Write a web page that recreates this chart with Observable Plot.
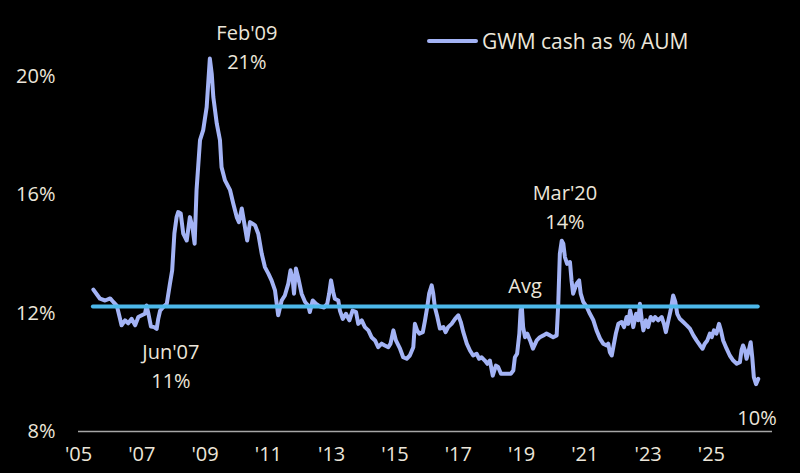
<!DOCTYPE html>
<html>
<head>
<meta charset="utf-8">
<script src="https://cdn.jsdelivr.net/npm/d3@7"></script>
<script src="https://cdn.jsdelivr.net/npm/@observablehq/plot@0.6"></script>
<style>
  html, body { margin: 0; padding: 0; background: #000; }
  #wrap { position: relative; width: 800px; height: 473px; background: #000; }
  #legend {
    position: absolute; left: 427px; top: 27px;
    display: flex; align-items: center; gap: 4px;
    font-family: "Open Sans", sans-serif; font-size: 21px; color: #ECE6DA;
  }
  #legend .swatch { width: 51px; height: 4px; border-radius: 2px; background: #A3B3F5; }
</style>
</head>
<body>
<div id="wrap">
  <div id="legend"><span class="swatch"></span><span>GWM cash as % AUM</span></div>
</div>
<script>
// GWM cash as a share of client assets, sampled roughly monthly (decimal year, %)
const years = [
  2005.47, 2005.68, 2005.84, 2006.00, 2006.10, 2006.21, 2006.31, 2006.36, 2006.47, 2006.57,
  2006.68, 2006.79, 2006.89, 2007.00, 2007.10, 2007.15, 2007.21, 2007.29, 2007.39, 2007.47,
  2007.52, 2007.58, 2007.68, 2007.79, 2007.89, 2007.96, 2008.03, 2008.10, 2008.15, 2008.23,
  2008.31, 2008.42, 2008.52, 2008.60, 2008.67, 2008.73, 2008.84, 2008.94, 2009.05, 2009.15,
  2009.21, 2009.26, 2009.37, 2009.47, 2009.52, 2009.63, 2009.79, 2009.89, 2010.00, 2010.07,
  2010.16, 2010.26, 2010.33, 2010.42, 2010.58, 2010.68, 2010.79, 2010.89, 2011.00, 2011.10,
  2011.21, 2011.31, 2011.42, 2011.52, 2011.63, 2011.70, 2011.77, 2011.81, 2011.87, 2011.94,
  2012.05, 2012.16, 2012.26, 2012.31, 2012.40, 2012.50, 2012.63, 2012.76, 2012.86, 2012.92,
  2012.98, 2013.05, 2013.10, 2013.21, 2013.26, 2013.35, 2013.45, 2013.56, 2013.66, 2013.77,
  2013.84, 2013.95, 2014.05, 2014.16, 2014.26, 2014.37, 2014.47, 2014.58, 2014.68, 2014.79,
  2014.86, 2014.95, 2015.03, 2015.16, 2015.26, 2015.37, 2015.47, 2015.58, 2015.63, 2015.70,
  2015.77, 2015.88, 2015.95, 2016.02, 2016.08, 2016.16, 2016.21, 2016.26, 2016.34, 2016.42,
  2016.53, 2016.60, 2016.68, 2016.79, 2016.90, 2017.00, 2017.08, 2017.16, 2017.27, 2017.37,
  2017.47, 2017.58, 2017.66, 2017.74, 2017.84, 2017.92, 2018.00, 2018.09, 2018.19, 2018.26,
  2018.35, 2018.44, 2018.55, 2018.66, 2018.74, 2018.79, 2018.86, 2018.93, 2018.97, 2019.01,
  2019.05, 2019.11, 2019.18, 2019.27, 2019.36, 2019.48, 2019.58, 2019.69, 2019.79, 2019.90,
  2020.00, 2020.11, 2020.16, 2020.21, 2020.27, 2020.32, 2020.37, 2020.44, 2020.53, 2020.58,
  2020.63, 2020.74, 2020.82, 2020.87, 2020.95, 2021.06, 2021.16, 2021.27, 2021.37, 2021.48,
  2021.58, 2021.69, 2021.74, 2021.79, 2021.85, 2021.90, 2021.98, 2022.06, 2022.16, 2022.24,
  2022.32, 2022.37, 2022.43, 2022.48, 2022.53, 2022.62, 2022.69, 2022.74, 2022.80, 2022.85,
  2022.93, 2023.00, 2023.08, 2023.16, 2023.22, 2023.32, 2023.43, 2023.50, 2023.56, 2023.64,
  2023.71, 2023.79, 2023.86, 2023.92, 2024.00, 2024.11, 2024.22, 2024.32, 2024.43, 2024.53,
  2024.64, 2024.72, 2024.79, 2024.87, 2024.95, 2025.01, 2025.08, 2025.16, 2025.24, 2025.30,
  2025.37, 2025.48, 2025.58, 2025.69, 2025.80, 2025.90, 2025.95, 2026.00, 2026.06, 2026.11,
  2026.18, 2026.24, 2026.29, 2026.34, 2026.41, 2026.48
];
const cashPct = [
  12.80, 12.49, 12.43, 12.50, 12.38, 12.26, 11.82, 11.59, 11.76, 11.66,
  11.81, 11.59, 11.87, 11.93, 11.98, 12.26, 11.98, 11.55, 11.53, 11.47,
  11.81, 12.09, 12.21, 12.32, 13.00, 13.45, 14.70, 15.25, 15.42, 15.37,
  14.69, 14.46, 15.25, 14.91, 14.35, 16.16, 17.85, 18.19, 18.97, 20.61,
  20.10, 19.31, 18.41, 17.85, 16.94, 16.49, 16.16, 15.71, 15.25, 15.08,
  15.54, 14.91, 14.46, 15.08, 14.97, 14.69, 14.01, 13.56, 13.34, 13.11,
  12.77, 11.93, 12.43, 12.60, 13.00, 13.45, 13.11, 12.66, 13.51, 13.22,
  12.66, 12.38, 12.26, 12.04, 12.43, 12.32, 12.23, 12.19, 12.32, 12.66,
  13.11, 12.71, 12.49, 12.43, 12.09, 11.81, 11.98, 11.76, 12.09, 12.04,
  11.64, 11.76, 11.53, 11.42, 11.19, 11.08, 10.85, 10.97, 10.91, 10.85,
  10.97, 11.42, 11.08, 10.80, 10.51, 10.46, 10.57, 10.85, 11.64, 11.42,
  11.31, 11.36, 11.76, 12.21, 12.66, 12.94, 12.66, 12.21, 11.87, 11.48,
  11.53, 11.36, 11.53, 11.64, 11.81, 11.93, 11.70, 11.36, 10.97, 10.74,
  10.57, 10.63, 10.46, 10.51, 10.40, 10.29, 10.40, 9.89, 10.23, 10.18,
  9.95, 9.95, 9.95, 9.95, 10.06, 10.51, 10.63, 11.31, 12.09, 12.21,
  11.53, 11.19, 11.31, 11.08, 10.80, 11.08, 11.19, 11.25, 11.31, 11.25,
  11.19, 11.25, 12.32, 14.01, 14.45, 14.35, 13.90, 13.67, 13.73, 13.11,
  12.66, 13.00, 13.11, 12.66, 12.38, 12.21, 11.98, 11.76, 11.42, 11.14,
  10.97, 10.91, 10.97, 10.68, 10.57, 10.85, 11.31, 11.64, 11.70, 11.53,
  11.87, 11.64, 12.09, 11.87, 11.53, 11.98, 11.76, 12.32, 11.76, 11.42,
  11.76, 11.53, 11.87, 11.76, 11.87, 11.76, 11.87, 11.64, 11.36, 11.76,
  12.09, 12.60, 12.38, 11.98, 11.81, 11.70, 11.59, 11.48, 11.25, 11.08,
  10.91, 10.80, 10.97, 11.08, 11.31, 11.19, 11.42, 11.31, 11.64, 11.42,
  11.08, 10.80, 10.57, 10.40, 10.29, 10.34, 10.74, 10.91, 10.74, 10.46,
  10.74, 11.02, 10.51, 9.84, 9.60, 9.78
];

// Long-run average level
const avgPct = 12.23;

// Axis ticks
const xTickYears = [2005, 2007, 2009, 2011, 2013, 2015, 2017, 2019, 2021, 2023, 2025];
const yTickPct = [8, 12, 16, 20];

// Callout names and where their text sits (decimal year, %)
const calloutNames = ["Feb'09", "Mar'20", "Jun'07"];
const calloutWindows = [[2008.5, 2009.6, "max"], [2019.9, 2020.6, "max"], [2007.0, 2007.9, "min"]];
const calloutX = [2010.32, 2020.37, 2007.92];
const calloutY = [21.06, 15.65, 10.27];
const avgLabelPos = [2019.11, 13.01];
const lastLabelPos = [2026.44, 8.54];

const series = years.map((t, i) => ({ t, v: cashPct[i] }));
const fmt = d3.format(".0f");

// Callout text takes its number from the series itself
const callouts = calloutNames.map((name, i) => {
  const [a, b, kind] = calloutWindows[i];
  const vals = series.filter(d => d.t >= a && d.t <= b).map(d => d.v);
  const v = kind === "max" ? d3.max(vals) : d3.min(vals);
  return { x: calloutX[i], y: calloutY[i], text: `${name}\n${fmt(v)}%` };
});
const last = series[series.length - 1];
callouts.push({ x: avgLabelPos[0], y: avgLabelPos[1], text: "Avg" });
callouts.push({ x: lastLabelPos[0], y: lastLabelPos[1], text: `${fmt(last.v)}%` });

const textColor = "#ECE6DA";

const chart = Plot.plot({
  width: 800,
  height: 473,
  marginLeft: 78,
  marginRight: 28,
  marginTop: 17,
  marginBottom: 42,
  style: {
    background: "#000",
    color: textColor,
    fontFamily: "'Open Sans', sans-serif",
    fontSize: "20px"
  },
  x: {
    domain: [2005, 2026.93],
    ticks: xTickYears,
    tickFormat: d => "'" + String(d).slice(2),
    tickSize: 0,
    tickPadding: 15,
    label: null
  },
  y: {
    domain: [8, 22],
    ticks: yTickPct,
    tickFormat: d => d + "%",
    tickSize: 0,
    tickPadding: 23,
    label: null
  },
  marks: [
    Plot.ruleY([8], { stroke: "#A6A6A6", strokeWidth: 1.5 }),
    Plot.line(series, {
      x: "t", y: "v",
      stroke: "#A3B3F5", strokeWidth: 4,
      strokeLinejoin: "round", strokeLinecap: "round"
    }),
    Plot.ruleY([avgPct], {
      x1: years[0], x2: years[years.length - 1],
      stroke: "#4DB8EA", strokeWidth: 4, strokeLinecap: "round"
    }),
    Plot.text(callouts, {
      x: "x", y: "y", text: "text",
      fill: textColor, fontSize: 20, lineHeight: 1.45,
      textAnchor: "middle", lineAnchor: "middle"
    })
  ]
});

document.getElementById("wrap").prepend(chart);
</script>
</body>
</html>
